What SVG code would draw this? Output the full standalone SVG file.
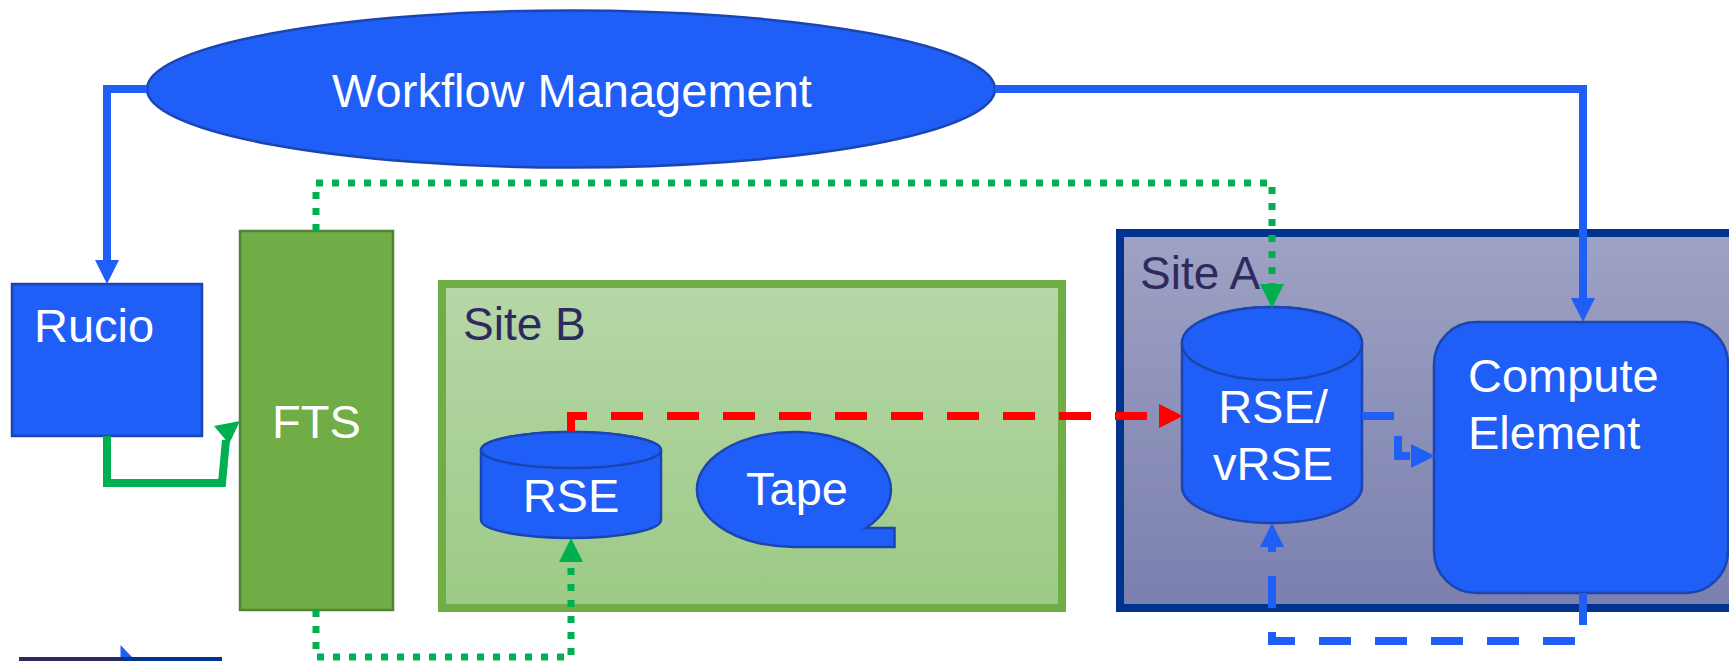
<svg xmlns="http://www.w3.org/2000/svg" width="1729" height="661" viewBox="0 0 1729 661">
<style>
.blue{fill:#205ef8;stroke:#1b45b0;stroke-width:2.5}
.lbl{font-family:"Liberation Sans",Arial,sans-serif;fill:#ffffff;font-size:47px}
.site{font-family:"Liberation Sans",Arial,sans-serif;fill:#2e2a5e;font-size:46px}
.conn{fill:none;stroke-width:8}
.bl{stroke:#205ef8}
.gr{stroke:#00b050}
.rd{stroke:#ff0000}
.dash{stroke-dasharray:32 24}
.dot{stroke-dasharray:7 9;stroke-width:7}
</style>
<defs>
<linearGradient id="gB" x1="0" y1="0" x2="0" y2="1">
<stop offset="0" stop-color="#b6d7a8"/><stop offset="1" stop-color="#9dca86"/>
</linearGradient>
<linearGradient id="gA" x1="0" y1="0" x2="0" y2="1">
<stop offset="0" stop-color="#9ea2c4"/><stop offset="1" stop-color="#7a7fae"/>
</linearGradient>
<marker id="aBl" markerUnits="userSpaceOnUse" markerWidth="24" markerHeight="24" refX="0" refY="12" orient="auto"><path d="M0,0 L24,12 L0,24 Z" fill="#205ef8"/></marker>
<marker id="aGr" markerUnits="userSpaceOnUse" markerWidth="24" markerHeight="24" refX="0" refY="12" orient="auto"><path d="M0,0 L24,12 L0,24 Z" fill="#00b050"/></marker>
<marker id="aRd" markerUnits="userSpaceOnUse" markerWidth="24" markerHeight="24" refX="0" refY="12" orient="auto"><path d="M0,0 L24,12 L0,24 Z" fill="#ff0000"/></marker>
</defs>
<rect width="1729" height="661" fill="#ffffff"/>

<g id="siteB">
<rect x="442" y="284" width="620" height="324" fill="url(#gB)" stroke="#70ad47" stroke-width="8"/>
<text class="site" x="463" y="340">Site B</text>
</g>
<g id="siteA">
<rect x="1120" y="233" width="700" height="375" fill="url(#gA)" stroke="#00338d" stroke-width="8"/>
<text class="site" x="1140" y="289">Site A</text>
</g>

<g id="workflow">
<ellipse class="blue" cx="571" cy="89" rx="424" ry="78.5"/>
<text class="lbl" x="572" y="107" text-anchor="middle" font-size="48">Workflow Management</text>
</g>
<g id="rucio">
<rect class="blue" x="12" y="284" width="190" height="152"/>
<text class="lbl" x="34" y="342">Rucio</text>
</g>
<g id="fts">
<rect x="240" y="231" width="153" height="379" fill="#70ad47" stroke="#548235" stroke-width="2.5"/>
<text class="lbl" x="316.5" y="438" text-anchor="middle">FTS</text>
</g>
<g id="rseB">
<path class="blue" d="M481,450 V520 A90,18 0 0 0 661,520 V450 A90,18 0 0 0 481,450 Z"/>
<ellipse class="blue" cx="571" cy="450" rx="90" ry="18"/>
<text class="lbl" x="571" y="512" text-anchor="middle" font-size="46">RSE</text>
</g>
<g id="tape">
<path class="blue" d="M797,547 A97,57.5 0 1 1 866,528 H894.5 V547 Z"/>
<text class="lbl" x="797" y="505" text-anchor="middle" font-size="40">Tape</text>
</g>
<g id="rseA">
<path class="blue" d="M1182,343.5 V486.5 A90,36.5 0 0 0 1362,486.5 V343.5 A90,36.5 0 0 0 1182,343.5 Z"/>
<ellipse class="blue" cx="1272" cy="343.5" rx="90" ry="36.5"/>
<text class="lbl" x="1273" y="423" text-anchor="middle">RSE/</text>
<text class="lbl" x="1273" y="480" text-anchor="middle">vRSE</text>
</g>
<g id="compute">
<rect class="blue" x="1434" y="322" width="294" height="271" rx="42" ry="42"/>
<text class="lbl" x="1468" y="392">Compute</text>
<text class="lbl" x="1468" y="449">Element</text>
</g>
<g id="legend">
<rect x="19" y="657" width="102" height="10" fill="#2e2a5e"/>
<rect x="121" y="657" width="101" height="10" fill="#00338d"/>
<polygon points="120.5,645 132,657 120.5,657" fill="#205ef8"/>
</g>

<g id="connectors">
<path class="conn bl" d="M147,89 H107 V260" marker-end="url(#aBl)"/>
<path class="conn bl" d="M995,89 H1583 V298" marker-end="url(#aBl)"/>
<path class="conn gr" d="M107,436 V483 H222 L226,440"/>
<polygon points="214,426 240,421 229,444" fill="#00b050"/>
<path class="conn gr dot" d="M316,231 V183 H1272 V284" marker-end="url(#aGr)"/>
<path class="conn gr dot" d="M316,610 V657 H571 V562" marker-end="url(#aGr)"/>
<path class="conn rd dash" d="M571,432 V416 H1159" marker-end="url(#aRd)"/>
<path class="conn bl dash" d="M1583,593 V641 H1272 V547" marker-end="url(#aBl)"/>
<path class="conn bl dash" d="M1362,416 H1398 V456 H1411" marker-end="url(#aBl)"/>
</g>
</svg>
